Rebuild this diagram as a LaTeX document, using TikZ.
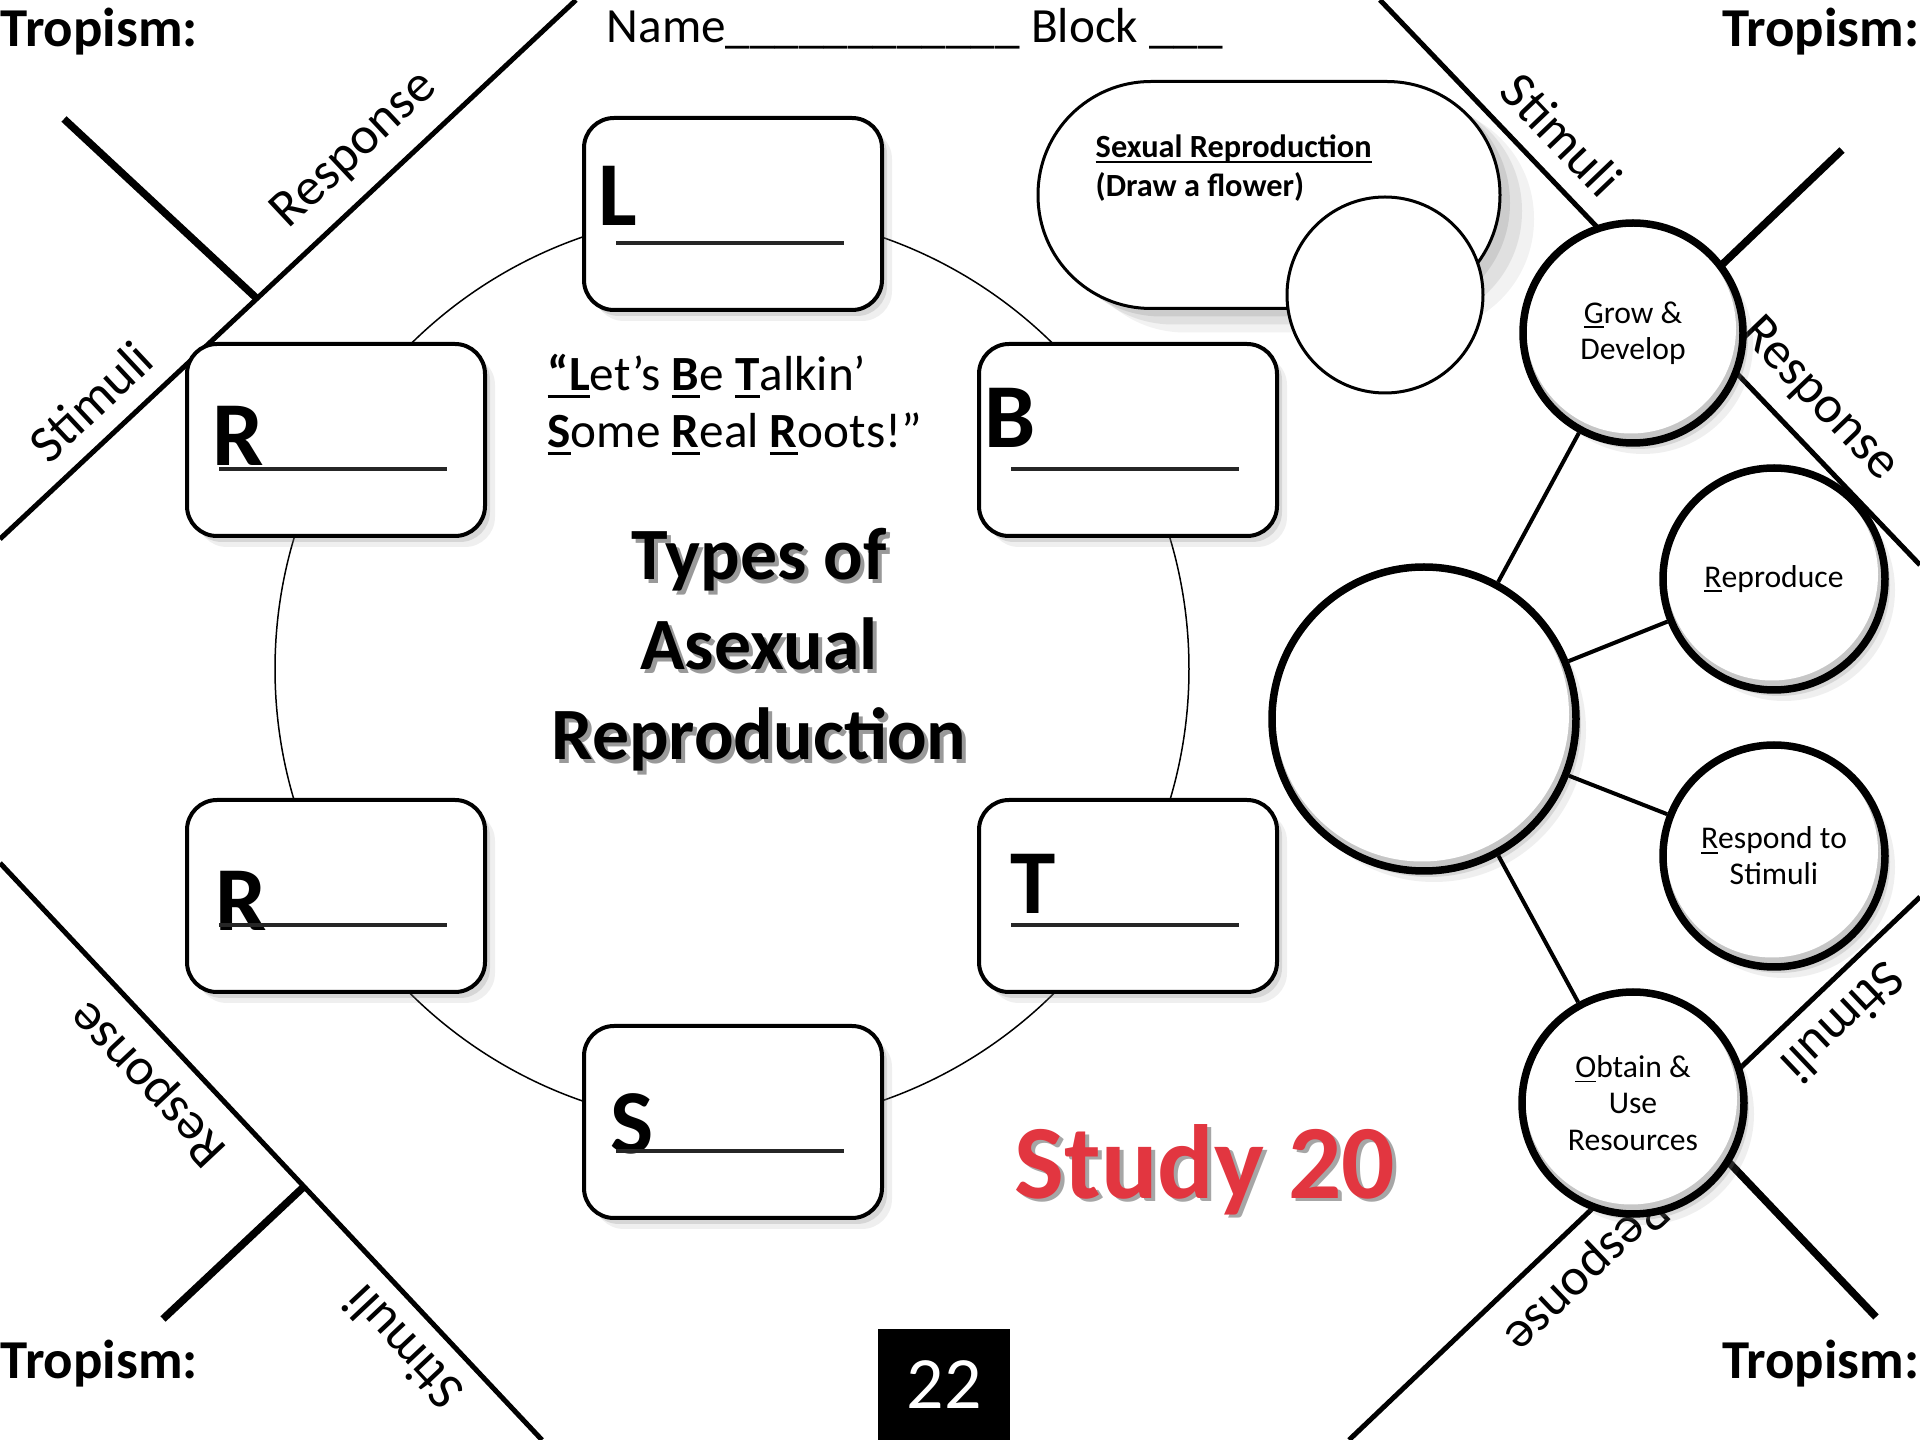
\documentclass[tikz,border=0pt]{standalone}
\usepackage{fontspec}
\setmainfont{Carlito}
\usetikzlibrary{calc,shadows}
\definecolor{studyred}{RGB}{226,54,64}
\newcommand\undl[1]{\setbox0\hbox{#1}\rlap{\rule[-0.15em]{\wd0}{0.06em}}\box0}

\begin{document}
\begin{tikzpicture}[x=0.1mm, y=-0.1mm,
  diag/.style={line width=0.5mm},
  tick/.style={line width=0.75mm},
  side/.style={font=\fontsize{15}{18}\selectfont, inner sep=0pt, sloped, above=5pt},
  tropism/.style={font=\fontsize{15.6}{18}\selectfont\bfseries, inner sep=0pt},
  softshadow/.style={drop shadow={shadow xshift=0.5mm, shadow yshift=-0.6mm, opacity=0.22},
                     drop shadow={shadow xshift=1mm, shadow yshift=-1.1mm, opacity=0.12}},
  letterbox/.style={draw, line width=0.4mm, rounded corners=3mm, fill=white,
                    minimum width=29.8mm, minimum height=19.2mm, softshadow},
  boxletter/.style={font=\fontsize{26}{30}\selectfont\bfseries, inner sep=0pt, anchor=base west},
  blank/.style={line width=0.4mm, black!85},
  quote/.style={font=\fontsize{14}{17}\selectfont, inner sep=0pt, anchor=base west},
  title/.style={font=\fontsize{21}{25.6}\selectfont\bfseries, align=center},
  study/.style={font=\fontsize{30}{36}\selectfont\bfseries, inner sep=0pt, anchor=base west},
  note/.style={anchor=base west, inner sep=0pt, font=\fontsize{9.2}{11}\selectfont\bfseries},
  bubble/.style={circle, draw, line width=0.75mm, fill=white, minimum size=#1, inner sep=0pt,
                 align=center, font=\fontsize{9}{10.3}\selectfont, softshadow,
                 path picture={\fill[gray!45] (path picture bounding box.center) circle[radius=#1/2];
                   \fill[white] ([shift={(-0.2mm,0.45mm)}]path picture bounding box.center) circle[radius=#1/2-0.5mm];}},
  link/.style={line width=0.4mm},
]
  \fill[white] (0,0) rectangle (1920,1440);
  \useasboundingbox (0,0) rectangle (1920,1440);
  \clip (0,0) rectangle (1920,1440);

  % Sexual reproduction
  \node[draw, line width=0.3mm, rounded corners=11.3mm, minimum width=46.2mm, minimum height=22.7mm, fill=white,
        drop shadow={shadow xshift=1mm, shadow yshift=-0.8mm, opacity=0.2},
        drop shadow={shadow xshift=2.2mm, shadow yshift=-1.6mm, opacity=0.15},
        drop shadow={shadow xshift=3.4mm, shadow yshift=-2.4mm, opacity=0.1}] (sexual) at (1269,195) {};
  \node[note] (sexhead) at (1095,158) {\undl{Sexual Reproduction}};
  \node[note] (sexnote) at (1095,197) {(Draw a flower)};
  \node[circle, draw, line width=0.3mm, fill=white, minimum size=19.6mm] (flower) at (1385,295) {};

  % Corners: top left
  \coordinate (tl a) at (0,539);
  \coordinate (tl b) at (576,0);
  \coordinate (tl t) at (64,119);
  \draw[diag] (tl a) -- node[side, pos=0.203] (tls) {Stimuli} node[side, pos=0.665] (tlr) {Response} (tl b);
  \draw[tick] (tl t) -- ($(tl a)!0.446!(tl b)$);

  % top right
  \coordinate (tr a) at (1380,0);
  \coordinate (tr b) at (1920,565);
  \coordinate (tr t) at (1842,150);
  \draw[diag] (tr a) -- node[side, pos=0.285] (trs) {Stimuli} node[side, pos=0.758] (trr) {Response} (tr b);
  \draw[tick] (tr t) -- ($(tr a)!(tr t)!(tr b)$);

  % bottom right
  \coordinate (br a) at (1920,897);
  \coordinate (br b) at (1349,1440);
  \coordinate (br t) at (1876,1317);
  \draw[diag] (br a) -- node[side, allow upside down, pos=0.18] (brs) {Stimuli} node[side, allow upside down, pos=0.636] (brr) {Response} (br b);
  \draw[tick] (br t) -- ($(br a)!(br t)!(br b)$);

  % bottom left
  \coordinate (bl a) at (542,1440);
  \coordinate (bl b) at (0,863);
  \coordinate (bl t) at (163,1319);
  \draw[diag] (bl a) -- node[side, allow upside down, pos=0.205] (bls) {Stimuli} node[side, allow upside down, pos=0.669] (blr) {Response} (bl b);
  \draw[tick] (bl t) -- ($(bl a)!(bl t)!(bl b)$);

  % Ring of letter boxes
  \node[circle, draw, line width=0.15mm, minimum size=91.4mm] (ring) at (732,669) {};
  \node[letterbox] (L) at (733,214) {};
  \node[letterbox] (R1) at (336,440) {};
  \node[letterbox] (B) at (1128,440) {};
  \node[letterbox] (R2) at (336,896) {};
  \node[letterbox] (T) at (1128,896) {};
  \node[letterbox] (S) at (733,1122) {};

  \node[boxletter] (Lch) at ($(L.north west)+(16,110)$) {L};
  \draw[blank] ($(L.north west)+(34,127)$) -- ($(L.north west)+(262,127)$);
  \node[boxletter] (R1ch) at ($(R1.north west)+(27,124)$) {R};
  \draw[blank] ($(R1.north west)+(34,127)$) -- ($(R1.north west)+(262,127)$);
  \node[boxletter] (Bch) at ($(B.north west)+(7,106)$) {B};
  \draw[blank] ($(B.north west)+(34,127)$) -- ($(B.north west)+(262,127)$);
  \node[boxletter] (R2ch) at ($(R2.north west)+(30,132)$) {R};
  \draw[blank] ($(R2.north west)+(34,127)$) -- ($(R2.north west)+(262,127)$);
  \node[boxletter] (Tch) at ($(T.north west)+(33,116)$) {T};
  \draw[blank] ($(T.north west)+(34,127)$) -- ($(T.north west)+(262,127)$);
  \node[boxletter] (Sch) at ($(S.north west)+(28,129)$) {S};
  \draw[blank] ($(S.north west)+(34,127)$) -- ($(S.north west)+(262,127)$);

  % Centre text
  \node[quote] (q1) at (547,391) {\undl{\bfseries “L}et’s \undl{\bfseries B}e \undl{\bfseries T}alkin’};
  \node[quote] (q2) at (547,448) {\undl{\bfseries S}ome \undl{\bfseries R}eal \undl{\bfseries R}oots!”};
  \node[title, text=black!40] (titleshadow) at (763,654) {Types of\\Asexual\\Reproduction};
  \node[title] (title) at (759,650) {Types of\\Asexual\\Reproduction};

  % Life bubbles
  \node[bubble=30.4mm] (life) at (1424,719) {};
  \node[bubble=22mm] (grow) at (1633,333) {\undl{G}row \&\\Develop};
  \node[bubble=22.2mm] (repro) at (1774,579) {\undl{R}eproduce};
  \node[bubble=22.2mm] (respond) at (1774,856) {\undl{R}espond to\\Stimuli};
  \node[bubble=22.2mm] (obtain) at (1633,1103) {\undl{O}btain \&\\Use\\Resources};
  \draw[link] (life) -- (grow);
  \draw[link] (life) -- (repro);
  \draw[link] (life) -- (respond);
  \draw[link] (life) -- (obtain);

  % Header, corners, footer
  \node[anchor=base west, inner sep=0pt, font=\fontsize{14}{17}\selectfont] (name) at (606,43) {Name\_\_\_\_\_\_\_\_\_\_\_\_ Block \_\_\_};
  \node[tropism, anchor=base west] (trop1) at (0,47) {Tropism:};
  \node[tropism, anchor=base east] (trop2) at (1920,47) {Tropism:};
  \node[tropism, anchor=base west] (trop3) at (0,1378) {Tropism:};
  \node[tropism, anchor=base east] (trop4) at (1920,1378) {Tropism:};

  \node[study, text=black!35] (studyshadow) at (1018,1202) {Study 20};
  \node[study, text=studyred] (study) at (1014,1198) {Study 20};
  \node[fill=black, text=white, minimum width=13.2mm, minimum height=11.1mm, inner sep=0pt,
        font=\fontsize{21}{25}\selectfont] (page) at (944,1384.5) {22};
\end{tikzpicture}
\end{document}
